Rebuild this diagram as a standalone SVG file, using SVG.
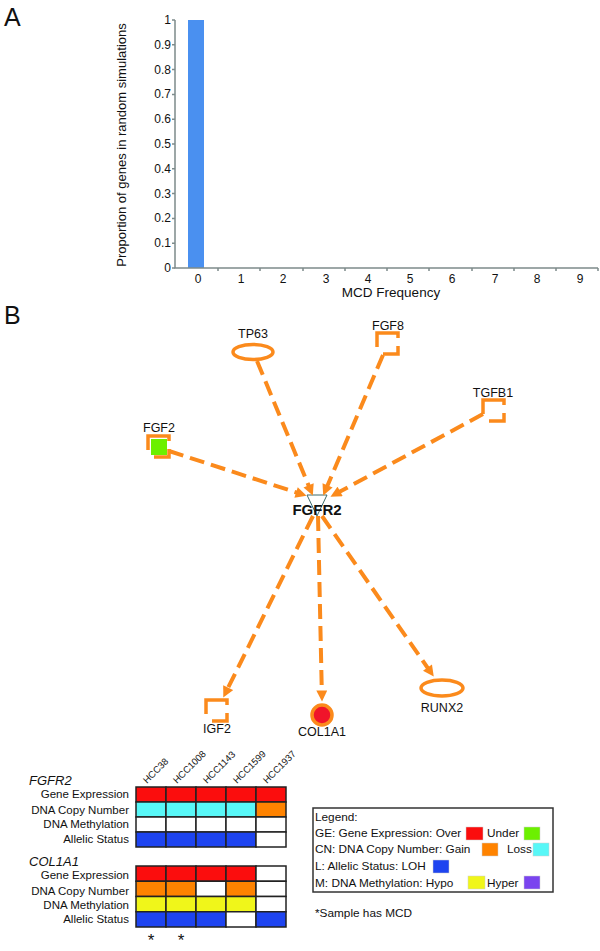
<svg xmlns="http://www.w3.org/2000/svg" width="600" height="951" viewBox="0 0 600 951">
<style>
text{font-family:"Liberation Sans",Arial,sans-serif;fill:#111}
.ax{stroke:#7d8b8b;stroke-width:1.5;fill:none}
.yt{font-size:12px;text-anchor:end}
.xt{font-size:12px;text-anchor:middle}
.lbl{font-size:12.5px;text-anchor:middle}
.edge{stroke:#fb8a1c;stroke-width:4;stroke-dasharray:15 7;fill:none;marker-end:url(#ah)}
.node{stroke:#fb8a1c;stroke-width:3.5;fill:none}
.cell{stroke:#222;stroke-width:1.5}
.rl{font-size:11.5px;text-anchor:end}
.hd{font-size:9.5px}
.lg{font-size:11.8px}
.sw{stroke:#cfcfcf;stroke-width:0.5}
</style>
<defs>
<marker id="ah" viewBox="0 0 10 10" refX="5" refY="5" markerWidth="12" markerHeight="11" markerUnits="userSpaceOnUse" orient="auto">
<path d="M0,0 L10,5 L0,10 z" fill="#fb8a1c"/>
</marker>
<path id="gf" d="M0,14 V0 H21 V5 M21,13 V21 H6"/>
</defs>
<rect width="600" height="951" fill="#fff"/>

<!-- Panel A -->
<g id="panelA">
<text x="4" y="26" font-size="25">A</text>
<rect x="188" y="20" width="16" height="248" fill="#4a90f0"/>
<path class="ax" d="M175,20 V268 H598"/>
<g class="ax" stroke-width="1">
<path d="M172,268H175M172,243.2H175M172,218.4H175M172,193.6H175M172,168.8H175M172,144H175M172,119.2H175M172,94.4H175M172,69.6H175M172,44.8H175M172,20H175"/>
<path d="M218,268V271M260,268V271M303,268V271M345,268V271M387,268V271M429,268V271M472,268V271M514,268V271M556,268V271M598,268V271"/>
</g>
<text class="yt" x="171" y="272">0</text>
<text class="yt" x="171" y="247.2">0.1</text>
<text class="yt" x="171" y="222.4">0.2</text>
<text class="yt" x="171" y="197.6">0.3</text>
<text class="yt" x="171" y="172.8">0.4</text>
<text class="yt" x="171" y="148">0.5</text>
<text class="yt" x="171" y="123.2">0.6</text>
<text class="yt" x="171" y="98.4">0.7</text>
<text class="yt" x="171" y="73.6">0.8</text>
<text class="yt" x="171" y="48.8">0.9</text>
<text class="yt" x="171" y="24">1</text>
<text class="xt" x="198" y="283">0</text>
<text class="xt" x="241" y="283">1</text>
<text class="xt" x="283" y="283">2</text>
<text class="xt" x="326" y="283">3</text>
<text class="xt" x="368" y="283">4</text>
<text class="xt" x="410" y="283">5</text>
<text class="xt" x="452" y="283">6</text>
<text class="xt" x="495" y="283">7</text>
<text class="xt" x="537" y="283">8</text>
<text class="xt" x="580" y="283">9</text>
<text x="391" y="297" font-size="13.5" text-anchor="middle">MCD Frequency</text>
<text transform="translate(126,145) rotate(-90)" font-size="13" text-anchor="middle">Proportion of genes in random simulations</text>
</g>

<!-- Panel B network -->
<text x="4" y="324" font-size="25">B</text>
<g id="FGFR2_tri"><polygon points="307,495 327,495 317,516" fill="#fff" stroke="#3d6b6b" stroke-width="1"/></g>
<g id="connectors">
<path class="edge" d="M257,361 L310.7,490.5"/>
<path class="edge" d="M383,355 L325.4,490.5"/>
<path class="edge" d="M483,414 L335.3,494.1"/>
<path class="edge" d="M169,451 L301.3,494.1"/>
<path class="edge" d="M313,516 L225.7,692.6"/>
<path class="edge" d="M318,516 L321.9,696"/>
<path class="edge" d="M322,516 L430.6,672.1"/>
</g>
<g id="FGFR2"><text x="317" y="515" font-size="15" font-weight="bold" text-anchor="middle">FGFR2</text></g>
<g id="TP63"><ellipse class="node" cx="253" cy="352" rx="20" ry="7.5"/><text class="lbl" x="253" y="338">TP63</text></g>
<g id="FGF8"><use href="#gf" class="node" x="377" y="333"/><text class="lbl" x="388" y="330">FGF8</text></g>
<g id="TGFB1"><use href="#gf" class="node" x="483" y="400"/><text class="lbl" x="493" y="397">TGFB1</text></g>
<g id="FGF2"><rect x="151" y="439" width="16" height="16" fill="#6cf000"/><use href="#gf" class="node" x="148" y="436"/><text class="lbl" x="159" y="432">FGF2</text></g>
<g id="IGF2"><use href="#gf" class="node" x="206" y="700"/><text class="lbl" x="217" y="733">IGF2</text></g>
<g id="COL1A1"><circle cx="322" cy="715" r="10" fill="#f0142a" stroke="#fb8a1c" stroke-width="3.5"/><text class="lbl" x="322" y="736">COL1A1</text></g>
<g id="RUNX2"><ellipse class="node" cx="442" cy="688" rx="21" ry="8"/><text class="lbl" x="442" y="712">RUNX2</text></g>

<!-- Table -->
<g id="headers" class="hd">
<text transform="translate(147,784) rotate(-45)">HCC38</text>
<text transform="translate(177,784) rotate(-45)">HCC1008</text>
<text transform="translate(207,784) rotate(-45)">HCC1143</text>
<text transform="translate(237,784) rotate(-45)">HCC1599</text>
<text transform="translate(267,784) rotate(-45)">HCC1937</text>
</g>
<g id="table_FGFR2">
<text x="29" y="785" font-size="13" font-style="italic">FGFR2</text>
<text class="rl" x="129" y="798">Gene Expression</text>
<text class="rl" x="129" y="814">DNA Copy Number</text>
<text class="rl" x="129" y="828">DNA Methylation</text>
<text class="rl" x="129" y="843">Allelic Status</text>
<g class="cell">
<rect x="136" y="787" width="30" height="15" fill="#fb0d0d"/><rect x="166" y="787" width="30" height="15" fill="#fb0d0d"/><rect x="196" y="787" width="30" height="15" fill="#fb0d0d"/><rect x="226" y="787" width="30" height="15" fill="#fb0d0d"/><rect x="256" y="787" width="30" height="15" fill="#fb0d0d"/>
<rect x="136" y="802" width="30" height="15" fill="#58f7f7"/><rect x="166" y="802" width="30" height="15" fill="#58f7f7"/><rect x="196" y="802" width="30" height="15" fill="#58f7f7"/><rect x="226" y="802" width="30" height="15" fill="#58f7f7"/><rect x="256" y="802" width="30" height="15" fill="#ff8300"/>
<rect x="136" y="817" width="30" height="15" fill="#fff"/><rect x="166" y="817" width="30" height="15" fill="#fff"/><rect x="196" y="817" width="30" height="15" fill="#fff"/><rect x="226" y="817" width="30" height="15" fill="#fff"/><rect x="256" y="817" width="30" height="15" fill="#fff"/>
<rect x="136" y="832" width="30" height="15" fill="#1e44f0"/><rect x="166" y="832" width="30" height="15" fill="#1e44f0"/><rect x="196" y="832" width="30" height="15" fill="#1e44f0"/><rect x="226" y="832" width="30" height="15" fill="#1e44f0"/><rect x="256" y="832" width="30" height="15" fill="#fff"/>
</g>
</g>
<g id="table_COL1A1">
<text x="29" y="866" font-size="13" font-style="italic">COL1A1</text>
<text class="rl" x="129" y="879">Gene Expression</text>
<text class="rl" x="129" y="895">DNA Copy Number</text>
<text class="rl" x="129" y="909">DNA Methylation</text>
<text class="rl" x="129" y="923">Allelic Status</text>
<g class="cell">
<rect x="136" y="866" width="30" height="15.25" fill="#fb0d0d"/><rect x="166" y="866" width="30" height="15.25" fill="#fb0d0d"/><rect x="196" y="866" width="30" height="15.25" fill="#fb0d0d"/><rect x="226" y="866" width="30" height="15.25" fill="#fb0d0d"/><rect x="256" y="866" width="30" height="15.25" fill="#fff"/>
<rect x="136" y="881.25" width="30" height="15.25" fill="#ff8300"/><rect x="166" y="881.25" width="30" height="15.25" fill="#ff8300"/><rect x="196" y="881.25" width="30" height="15.25" fill="#fff"/><rect x="226" y="881.25" width="30" height="15.25" fill="#ff8300"/><rect x="256" y="881.25" width="30" height="15.25" fill="#fff"/>
<rect x="136" y="896.5" width="30" height="15.25" fill="#f0f61a"/><rect x="166" y="896.5" width="30" height="15.25" fill="#f0f61a"/><rect x="196" y="896.5" width="30" height="15.25" fill="#f0f61a"/><rect x="226" y="896.5" width="30" height="15.25" fill="#f0f61a"/><rect x="256" y="896.5" width="30" height="15.25" fill="#fff"/>
<rect x="136" y="911.75" width="30" height="15.25" fill="#1e44f0"/><rect x="166" y="911.75" width="30" height="15.25" fill="#1e44f0"/><rect x="196" y="911.75" width="30" height="15.25" fill="#1e44f0"/><rect x="226" y="911.75" width="30" height="15.25" fill="#fff"/><rect x="256" y="911.75" width="30" height="15.25" fill="#1e44f0"/>
</g>
<text x="151" y="946" font-size="17" text-anchor="middle">*</text>
<text x="181" y="946" font-size="17" text-anchor="middle">*</text>
</g>

<!-- Legend -->
<g id="legend">
<rect x="313" y="808" width="240" height="84" fill="#fff" stroke="#333" stroke-width="1.5"/>
<text class="lg" x="315" y="821">Legend:</text>
<text class="lg" x="315" y="837">GE: Gene Expression: Over</text>
<rect class="sw" x="466" y="827" width="17" height="13" fill="#fb0d0d"/>
<text class="lg" x="487" y="837">Under</text>
<rect class="sw" x="524" y="827" width="16" height="13" fill="#6cf000"/>
<text class="lg" x="315" y="853">CN: DNA Copy Number: Gain</text>
<rect class="sw" x="482" y="843" width="16" height="13" fill="#ff8300"/>
<text class="lg" x="507" y="853">Loss</text>
<rect class="sw" x="533" y="843" width="16" height="13" fill="#58f7f7"/>
<text class="lg" x="315" y="870">L: Allelic Status: LOH</text>
<rect class="sw" x="433" y="860" width="16" height="13" fill="#1e44f0"/>
<text class="lg" x="315" y="887">M: DNA Methylation: Hypo</text>
<rect class="sw" x="468" y="876" width="17" height="13" fill="#f0f61a"/>
<text class="lg" x="487" y="887">Hyper</text>
<rect class="sw" x="524" y="876" width="16" height="13" fill="#7a44ef"/>
<text class="lg" x="315" y="917">*Sample has MCD</text>
</g>
</svg>
